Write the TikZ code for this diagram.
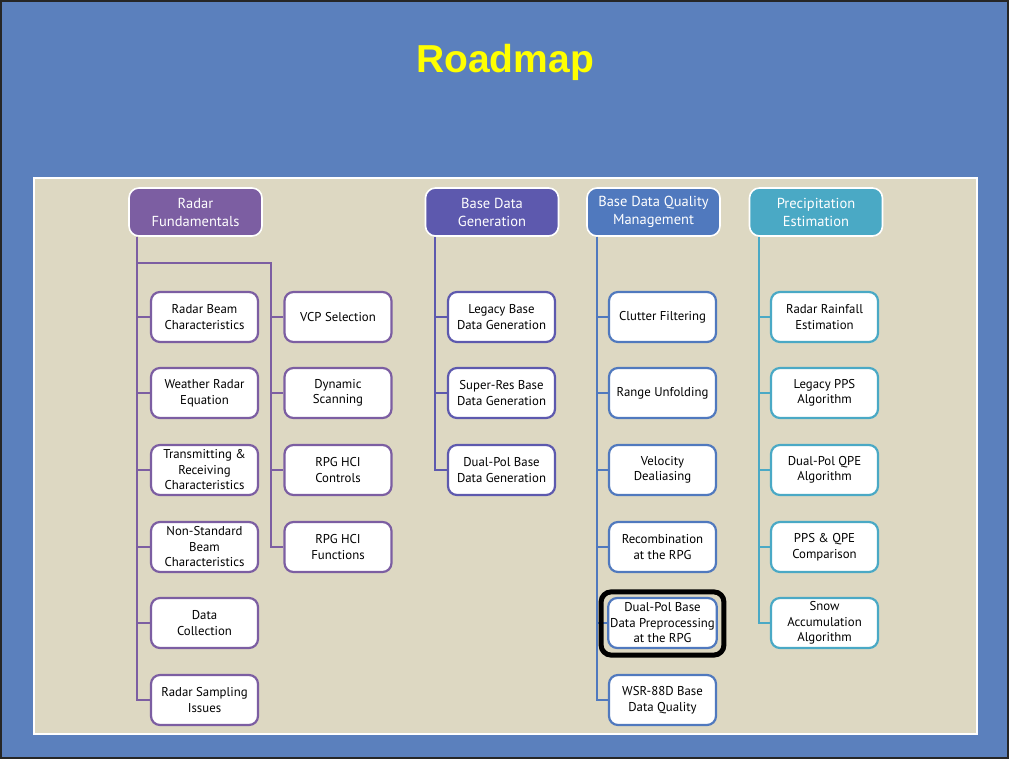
\documentclass[tikz,border=0pt]{standalone}
\usepackage{fontspec}
\setmainfont{PT Sans}
\newfontfamily\titlefont{Liberation Sans}
\usetikzlibrary{positioning}
\definecolor{slide} {RGB}{ 91,128,189}
\definecolor{panel} {RGB}{221,216,194}
\definecolor{ttl}   {RGB}{255,255,  0}
\definecolor{rfc}   {RGB}{124, 94,162}
\definecolor{bdg}   {RGB}{ 93, 89,174}
\definecolor{bdq}   {RGB}{ 80,121,190}
\definecolor{pec}   {RGB}{ 74,169,197}
\tikzset{
  % Coloured column header
  HD/.style={rectangle,rounded corners=10pt,draw=white,fill=#1,text=white,
             minimum width=133pt,minimum height=48pt,align=center,
             font=\fontsize{14.5}{18}\selectfont,inner sep=2pt,line width=1.6pt},
  % White topic box
  TP/.style={rectangle,rounded corners=9pt,draw=#1,fill=white,
             minimum width=107pt,minimum height=50pt,align=center,
             font=\fontsize{12.8}{15.5}\selectfont,inner sep=2pt,line width=2.2pt},
  % Tree lines
  Ln/.style={line width=2pt,color=#1},
}
\begin{document}
\begin{tikzpicture}[x=1pt,y=-1pt]
      \fill[slide] (0,0) rectangle (1009,759);
      \draw[black!85,line width=2pt] (1,1) rectangle (1008,758);
      \draw[panel,fill=panel,draw=white,line width=1.2pt] (34,178) rectangle (977,734);
      \node[font=\titlefont\bfseries\fontsize{39}{44}\selectfont,text=ttl] at (505,62) (ttl) {Roadmap};
      % headers
      \node[HD=rfc] at (195.5,212) (rf) {Radar\\Fundamentals};
      \node[HD=bdg] at (492,212) (bg) {Base Data\\Generation};
      \node[HD=bdq] at (653.5,212) (bq) {Base Data Quality\\Management};
      \node[HD=pec] at (816,212) (pe) {Precipitation\\Estimation};
      % radar fundamentals
      \node[TP=rfc] at (204.5,317) (rb) {Radar Beam\\Characteristics};
      \node[TP=rfc] at (204.5,393) (wr) {Weather Radar\\Equation};
      \node[TP=rfc] at (204.5,470) (tr) {Transmitting \&\\Receiving\\Characteristics};
      \node[TP=rfc] at (204.5,547) (ns) {Non-Standard\\Beam\\Characteristics};
      \node[TP=rfc] at (204.5,623) (dc) {Data\\Collection};
      \node[TP=rfc] at (204.5,700) (rs) {Radar Sampling\\Issues};
      \node[TP=rfc] at (338,317) (vcp) {VCP Selection};
      \node[TP=rfc] at (338,393) (dy) {Dynamic\\Scanning};
      \node[TP=rfc] at (338,470) (hc) {RPG HCI\\Controls};
      \node[TP=rfc] at (338,547) (hf) {RPG HCI\\Functions};
      \draw[Ln=rfc] ([xshift=9pt]rf.south west) |- (rb.west);
      \draw[Ln=rfc] ([xshift=9pt]rf.south west) |- (wr.west);
      \draw[Ln=rfc] ([xshift=9pt]rf.south west) |- (tr.west);
      \draw[Ln=rfc] ([xshift=9pt]rf.south west) |- (ns.west);
      \draw[Ln=rfc] ([xshift=9pt]rf.south west) |- (dc.west);
      \draw[Ln=rfc] ([xshift=9pt]rf.south west) |- (rs.west);
      \coordinate (rfk) at (271,263);
      \draw[Ln=rfc] ([xshift=9pt]rf.south west) |- (rfk) |- (vcp.west);
      \draw[Ln=rfc] (rfk) |- (dy.west);
      \draw[Ln=rfc] (rfk) |- (hc.west);
      \draw[Ln=rfc] (rfk) |- (hf.west);
      % base data generation
      \node[TP=bdg] at (501.5,317) (lg) {Legacy Base\\Data Generation};
      \node[TP=bdg] at (501.5,393) (sr) {Super-Res Base\\Data Generation};
      \node[TP=bdg] at (501.5,470) (dg) {Dual-Pol Base\\Data Generation};
      \draw[Ln=bdg] ([xshift=10pt]bg.south west) |- (lg.west);
      \draw[Ln=bdg] ([xshift=10pt]bg.south west) |- (sr.west);
      \draw[Ln=bdg] ([xshift=10pt]bg.south west) |- (dg.west);
      % base data quality management
      \node[TP=bdq] at (662.5,317) (cf) {Clutter Filtering};
      \node[TP=bdq] at (662.5,393) (ru) {Range Unfolding};
      \node[TP=bdq] at (662.5,470) (vd) {Velocity\\Dealiasing};
      \node[TP=bdq] at (662.5,547) (rc) {Recombination\\at the RPG};
      \node[TP=bdq] at (662.5,623) (dp) {Dual-Pol Base\\Data Preprocessing\\at the RPG};
      \node[TP=bdq] at (662.5,700) (wq) {WSR-88D Base\\Data Quality};
      \draw[Ln=bdq] ([xshift=11pt]bq.south west) |- (cf.west);
      \draw[Ln=bdq] ([xshift=11pt]bq.south west) |- (ru.west);
      \draw[Ln=bdq] ([xshift=11pt]bq.south west) |- (vd.west);
      \draw[Ln=bdq] ([xshift=11pt]bq.south west) |- (rc.west);
      \draw[Ln=bdq] ([xshift=11pt]bq.south west) |- (dp.west);
      \draw[Ln=bdq] ([xshift=11pt]bq.south west) |- (wq.west);
      \draw[line width=5pt,rounded corners=10pt]
            ([xshift=-6pt,yshift=5pt]dp.north west) rectangle ([xshift=6pt,yshift=-6pt]dp.south east);
      % precipitation estimation
      \node[TP=pec] at (824.5,317) (rr) {Radar Rainfall\\Estimation};
      \node[TP=pec] at (824.5,393) (lp) {Legacy PPS\\Algorithm};
      \node[TP=pec] at (824.5,470) (dq) {Dual-Pol QPE\\Algorithm};
      \node[TP=pec] at (824.5,547) (pq) {PPS \& QPE\\Comparison};
      \node[TP=pec] at (824.5,623) (sa) {Snow\\Accumulation\\Algorithm};
      \draw[Ln=pec] ([xshift=10pt]pe.south west) |- (rr.west);
      \draw[Ln=pec] ([xshift=10pt]pe.south west) |- (lp.west);
      \draw[Ln=pec] ([xshift=10pt]pe.south west) |- (dq.west);
      \draw[Ln=pec] ([xshift=10pt]pe.south west) |- (pq.west);
      \draw[Ln=pec] ([xshift=10pt]pe.south west) |- (sa.west);
    \end{tikzpicture}
\end{document}
